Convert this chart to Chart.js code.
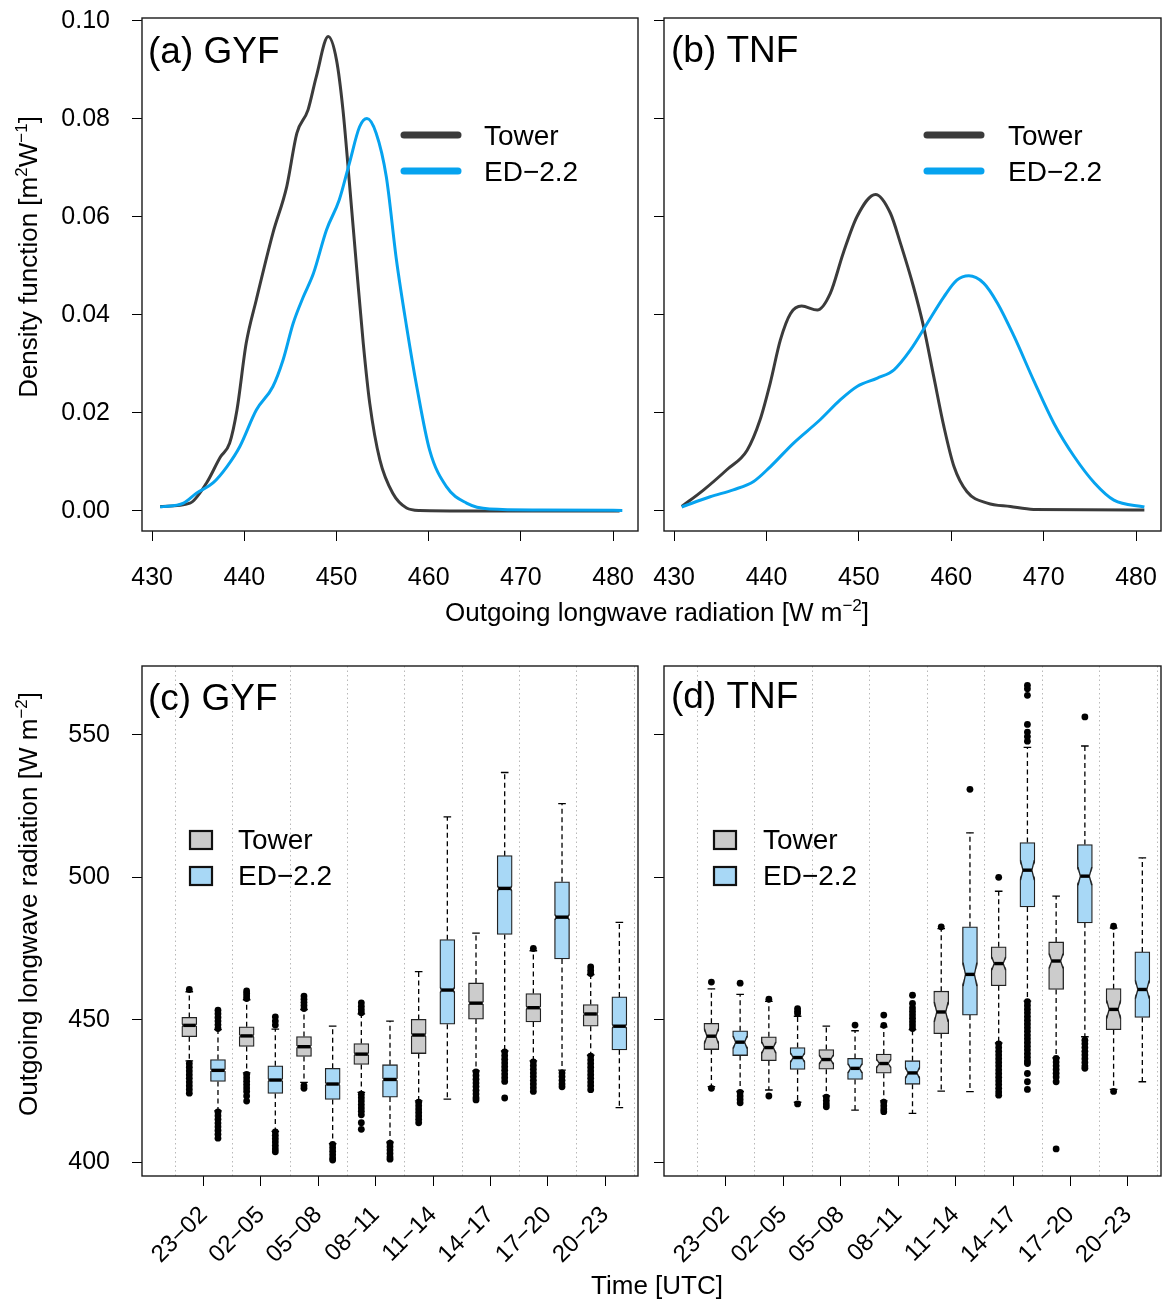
<!DOCTYPE html>
<html>
<head>
<meta charset="utf-8">
<title>Outgoing longwave radiation, GYF and TNF</title>
<script src="https://cdn.jsdelivr.net/npm/chart.js@4.4.1/dist/chart.umd.min.js"></script>
<style>
  html, body { margin: 0; padding: 0; background: #fff; overflow: hidden; }
  #fig { position: relative; width: 1164px; height: 1300px; font-family: "Liberation Sans", Arial, sans-serif; color: #000; }
  .pane { position: absolute; }
  .pane canvas { display: block; }
  .ttl { position: absolute; font-size: 26px; line-height: 26px; white-space: nowrap; }
  .ttl sup { font-size: 17px; line-height: 0; vertical-align: 10px; }
  .h { transform: translateX(-50%); }
  .v { transform: translate(-50%, -50%) rotate(-90deg); }
</style>
</head>
<body>
<div id="fig">
  <div class="pane" style="left:0;top:0;width:650px;height:600px"><canvas id="panelA"></canvas></div>
  <div class="pane" style="left:650px;top:0;width:514px;height:600px"><canvas id="panelB"></canvas></div>
  <div class="pane" style="left:0;top:640px;width:650px;height:660px"><canvas id="panelC"></canvas></div>
  <div class="pane" style="left:650px;top:640px;width:514px;height:660px"><canvas id="panelD"></canvas></div>

  <div class="ttl v" style="left:28px;top:257px">Density function [m<sup>2</sup>W<sup>−1</sup>]</div>
  <div class="ttl h" style="left:657px;top:599px">Outgoing longwave radiation [W m<sup>−2</sup>]</div>
  <div class="ttl v" style="left:28px;top:904px">Outgoing longwave radiation [W m<sup>−2</sup>]</div>
  <div class="ttl h" style="left:657px;top:1272px">Time [UTC]</div>
</div>

<script>
// ---------- data: density curves (top row) ----------
const olrTicks = [430, 440, 450, 460, 470, 480];
const densTicks = [0, 0.02, 0.04, 0.06, 0.08, 0.10];
const seriesNames = ['Tower', 'ED−2.2'];

const gyfTowerX = [430.87, 434.1, 435.9, 437.4, 438.4, 439.2, 440.2, 441.3, 443.1, 444.6, 445.7, 446.9, 447.8, 449.1, 450.0, 450.7, 451.4, 452.2, 452.9, 453.6, 454.7, 456.1, 457.6, 459.0, 465, 470, 475, 480.7];
const gyfTowerY = [0.0009, 0.0016, 0.0057, 0.011, 0.0138, 0.0206, 0.0342, 0.0431, 0.0567, 0.0662, 0.0771, 0.0818, 0.0886, 0.0968, 0.092, 0.0818, 0.0669, 0.0492, 0.0342, 0.022, 0.0104, 0.0036, 0.0006, 0.0001, 0, 0, 0, 0];
const gyfEdX = [430.87, 433.4, 434.8, 436.6, 438.1, 439.5, 441.3, 443.1, 444.2, 445.3, 446.4, 447.5, 448.9, 450.3, 451.4, 452.5, 453.3, 454.3, 455.4, 456.5, 457.6, 458.7, 460.1, 461.9, 464.1, 466.6, 472, 481.0];
const gyfEdY = [0.0008, 0.0016, 0.0036, 0.0057, 0.009, 0.0131, 0.0206, 0.0254, 0.0308, 0.0383, 0.0437, 0.0485, 0.0573, 0.0635, 0.071, 0.0784, 0.0801, 0.0771, 0.0682, 0.0512, 0.0376, 0.0254, 0.0124, 0.005, 0.0016, 0.0004, 0.0002, 0.0001];

const tnfTowerX = [430.82, 433.2, 435.7, 437.9, 439.3, 440.4, 441.5, 442.6, 443.8, 445.5, 446.9, 448.3, 449.8, 451.8, 453.4, 454.5, 455.9, 457.0, 458.1, 459.2, 460.3, 461.7, 463.9, 466.4, 468.9, 480.9];
const tnfTowerY = [0.0009, 0.0043, 0.0084, 0.0124, 0.0186, 0.0261, 0.0349, 0.0403, 0.0418, 0.041, 0.0444, 0.0526, 0.0601, 0.0646, 0.0608, 0.0546, 0.0458, 0.0376, 0.0274, 0.0172, 0.009, 0.0039, 0.0016, 0.0009, 0.0003, 0.0002];
const tnfEdX = [430.82, 433.9, 436.4, 438.6, 440.4, 442.9, 445.8, 448.0, 449.8, 452.0, 453.8, 455.6, 457.4, 459.2, 460.6, 461.9, 463.5, 465.0, 466.8, 468.9, 471.1, 473.3, 475.5, 477.6, 480.9];
const tnfEdY = [0.0008, 0.0029, 0.0043, 0.006, 0.009, 0.0138, 0.0186, 0.0227, 0.0254, 0.0271, 0.0288, 0.0329, 0.0383, 0.0437, 0.0471, 0.048, 0.0465, 0.0424, 0.0356, 0.0267, 0.0179, 0.0111, 0.0057, 0.0022, 0.0008];

// ---------- data: boxplots (bottom row) ----------
const timeLabels = ['23−02', '02−05', '05−08', '08−11', '11−14', '14−17', '17−20', '20−23'];
const timeTicks = [1.5, 3.5, 5.5, 7.5, 9.5, 11.5, 13.5, 15.5];
const groupEdges = [0.5, 2.5, 4.5, 6.5, 8.5, 10.5, 12.5, 14.5, 16.5];
const towerPos = [1, 3, 5, 7, 9, 11, 13, 15];
const edPos = [2, 4, 6, 8, 10, 12, 14, 16];
const olrBoxTicks = [400, 450, 500, 550];

// GYF tower
const gyfTowerLo  = [435.5, 431.3, 428.0, 424.5, 421.5, 432.0, 435.5, 437.5];
const gyfTowerQ1  = [444.0, 440.6, 437.1, 434.3, 438.1, 450.2, 449.2, 447.7];
const gyfTowerMed = [448.0, 444.3, 440.5, 437.9, 444.6, 455.8, 454.2, 452.0];
const gyfTowerQ3  = [450.8, 447.5, 444.1, 441.6, 450.1, 462.9, 459.2, 455.3];
const gyfTowerHi  = [459.8, 457.0, 453.5, 452.0, 466.9, 480.4, 474.2, 465.8];
const gyfTowerNotch = [0.5, 0.5, 0.5, 0.5, 0.6, 0.6, 0.6, 0.5];
const gyfTowerOut = [
  [460.6, 434.6, 433.3, 432, 430.7, 429.4, 428.1, 426.8, 425.5, 424.2],
  [457.4, 458.3, 459.2, 460.1, 430.8, 429.6, 428.4, 427.2, 426, 424.8, 423.2, 421.4],
  [453.9, 455, 456.1, 457.2, 458.3, 426.8, 425.9],
  [452.4, 453.5, 454.7, 455.9, 423.8, 422.6, 421.4, 420.2, 419, 417.8, 416.6, 413.8, 411.5],
  [421, 419.8, 418.6, 417.4, 416.2, 415, 413.8],
  [431.7, 430.4, 429.1, 427.8, 426.5, 425.2, 423.9, 422.6, 421.8],
  [475, 435.2, 433.9, 432.6, 431.3, 430, 428.7, 427.4, 426.1, 424.8],
  [466.2, 467.3, 468.5, 437.2, 435.9, 434.6, 433.3, 432, 430.7, 429.4, 428.1, 426.8, 425.4]
];
// GYF ED-2.2
const gyfEdLo  = [418.0, 410.8, 406.5, 407.0, 422.1, 439.0, 432.3, 419.1];
const gyfEdQ1  = [428.3, 424.1, 422.0, 422.8, 448.4, 479.9, 471.3, 439.4];
const gyfEdMed = [432.2, 428.8, 427.4, 429.0, 460.4, 496.1, 486.0, 447.7];
const gyfEdQ3  = [436.0, 433.8, 432.9, 434.2, 478.1, 507.6, 498.4, 458.0];
const gyfEdHi  = [446.5, 446.7, 447.7, 449.5, 521.2, 536.8, 525.9, 484.2];
const gyfEdNotch = [0.5, 0.5, 0.5, 0.5, 0.9, 0.9, 0.9, 0.7];
const gyfEdOut = [
  [446.9, 448.2, 449.5, 450.8, 452.1, 453.3, 417.6, 416.3, 415, 413.7, 412.4, 411.1, 409.8, 408.4],
  [448.1, 449.5, 451, 410.6, 409.4, 408.2, 407, 405.8, 404.6, 403.6],
  [406.2, 405, 403.8, 402.6, 401.4, 400.7],
  [406.6, 405.4, 404.2, 403, 401.8, 401],
  [],
  [438.7, 437.4, 436.1, 434.8, 433.5, 432.2, 430.9, 429.6, 428.3, 422.5],
  [431.3, 430, 428.7, 427.4, 426.4],
  []
];
// TNF tower
const tnfTowerLo  = [426.5, 425.3, 423.2, 421.5, 424.9, 441.8, 436.6, 425.5];
const tnfTowerQ1  = [439.5, 435.6, 432.6, 431.2, 445.1, 461.9, 460.6, 446.5];
const tnfTowerMed = [444.2, 440.2, 436.0, 434.6, 452.7, 469.7, 470.6, 453.6];
const tnfTowerQ3  = [448.7, 444.0, 439.5, 437.9, 460.0, 475.6, 477.3, 460.9];
const tnfTowerHi  = [460.8, 456.4, 447.7, 447.5, 482.0, 495.1, 493.4, 482.2];
const tnfTowerNotch = [2.6, 2.0, 1.6, 1.4, 3.5, 2.3, 2.6, 3.2];
const tnfTowerOut = [
  [463.2, 425.9],
  [457.2, 423.2],
  [422.8, 421.6, 420.4, 419.4],
  [448.0, 451.6, 421, 419.8, 418.6, 417.7],
  [482.6],
  [500, 441.5, 440.2, 438.9, 437.6, 436.3, 435, 433.7, 432.4, 431.1, 429.8, 428.5, 427.2, 425.9, 424.6, 423.5],
  [436.4, 435.1, 433.8, 432.5, 431.2, 429.9, 428.2, 404.6],
  [482.8, 424.8]
];
// TNF ED-2.2
const tnfEdLo  = [424.8, 421.0, 418.2, 417.1, 424.7, 456.5, 444.0, 428.2];
const tnfEdQ1  = [437.4, 432.5, 429.0, 427.3, 451.6, 489.6, 484.0, 450.8];
const tnfEdMed = [442.1, 436.7, 432.9, 431.3, 465.9, 502.5, 500.4, 460.6];
const tnfEdQ3  = [446.1, 440.2, 436.4, 435.6, 482.6, 512.2, 511.5, 473.8];
const tnfEdHi  = [458.9, 451.2, 446.1, 446.5, 515.6, 545.6, 546.1, 506.8];
const tnfEdNotch = [2.2, 1.6, 1.6, 1.9, 4.1, 3.5, 3.2, 3.2];
const tnfEdOut = [
  [462.8, 424.5, 423.2, 422, 420.8],
  [452.2, 453, 453.9, 420.4],
  [448.1],
  [446.9, 448.1, 449.3, 450.5, 451.7, 452.9, 454.1, 455.7, 458.6],
  [530.9],
  [547.8, 549.4, 551, 553.7, 563.9, 566.2, 567.4, 456.3, 455, 453.7, 452.4, 451.1, 449.8, 448.5, 447.2, 445.9, 444.6, 443.3, 442, 440.7, 439.4, 438.1, 436.8, 435.5, 434.6, 431.1, 428.2, 425.5],
  [556.3, 442.8, 441.5, 440.2, 438.9, 437.6, 436.3, 435, 433.7, 432.9],
  []
];

// ---------- styling ----------
const FONT = '"Liberation Sans", Arial, sans-serif';
Chart.defaults.font.family = FONT;
Chart.defaults.color = '#000';

const towerLine = '#3b3b3b', edLine = '#06a3ef';
const towerFill = '#cccccc', edFill = '#a8d8f6';
const BOX_W = 15;

const xy = (xs, ys) => xs.map((v, i) => ({ x: v, y: ys[i] }));
const boxes = (pos, q1, q3) => pos.map((p, i) => ({ x: p, y: [q1[i], q3[i]] }));
const outliers = (pos, out) => pos.flatMap((p, i) => out[i].map(v => ({ x: p, y: v })));

function fixSize(size, horizontal) {
  return s => {
    if (horizontal) s.height = size; else s.width = size;
    s.paddingLeft = s.paddingRight = s.paddingTop = s.paddingBottom = 0;
  };
}
const setTicks = values => s => { s.ticks = values.map(v => ({ value: v })); };

// frame, panel label and legend
function decor(cfg) {
  return {
    id: 'decor',
    afterDraw(chart) {
      const { ctx, chartArea: a } = chart;
      ctx.save();
      ctx.strokeStyle = '#1a1a1a';
      ctx.lineWidth = 1.4;
      ctx.strokeRect(a.left, a.top, a.right - a.left, a.bottom - a.top);

      ctx.fillStyle = '#000';
      ctx.textAlign = 'left';
      ctx.textBaseline = 'alphabetic';
      ctx.font = '37px ' + FONT;
      ctx.fillText(cfg.label, cfg.lx, cfg.ly);

      ctx.font = '28px ' + FONT;
      const colors = cfg.kind === 'line' ? [towerLine, edLine] : [towerFill, edFill];
      seriesNames.forEach((name, i) => {
        const by = cfg.ky[i];
        if (cfg.kind === 'line') {
          ctx.strokeStyle = colors[i];
          ctx.lineWidth = 7;
          ctx.lineCap = 'round';
          ctx.beginPath();
          ctx.moveTo(cfg.kx, by - 10);
          ctx.lineTo(cfg.kx + 54, by - 10);
          ctx.stroke();
        } else {
          ctx.fillStyle = colors[i];
          ctx.fillRect(cfg.kx, by - 18, 22, 18);
          ctx.strokeStyle = '#111';
          ctx.lineWidth = 2.2;
          ctx.strokeRect(cfg.kx, by - 18, 22, 18);
        }
        ctx.fillStyle = '#000';
        ctx.fillText(name, cfg.tx, by);
      });
      ctx.restore();
    }
  };
}

// whiskers, separators, notches and medians for the boxplots
function boxExtras(groups, indent) {
  return {
    id: 'boxExtras',
    beforeDatasetsDraw(chart) {
      const { ctx, chartArea: a, scales: { x, y } } = chart;
      ctx.save();
      ctx.strokeStyle = '#b8b8b8';
      ctx.lineWidth = 1;
      ctx.setLineDash([1.5, 3]);
      groupEdges.forEach(p => {
        const px = Math.round(x.getPixelForValue(p)) + 0.5;
        ctx.beginPath(); ctx.moveTo(px, a.top); ctx.lineTo(px, a.bottom); ctx.stroke();
      });
      ctx.strokeStyle = '#000';
      ctx.lineWidth = 1.3;
      groups.forEach(g => g.pos.forEach((p, i) => {
        const cx = x.getPixelForValue(p);
        const yHi = y.getPixelForValue(g.hi[i]), yLo = y.getPixelForValue(g.lo[i]);
        ctx.setLineDash([5, 3.5]);
        ctx.beginPath();
        ctx.moveTo(cx, y.getPixelForValue(g.q3[i])); ctx.lineTo(cx, yHi);
        ctx.moveTo(cx, y.getPixelForValue(g.q1[i])); ctx.lineTo(cx, yLo);
        ctx.stroke();
        ctx.setLineDash([]);
        ctx.beginPath();
        ctx.moveTo(cx - 3.8, yHi); ctx.lineTo(cx + 3.8, yHi);
        ctx.moveTo(cx - 3.8, yLo); ctx.lineTo(cx + 3.8, yLo);
        ctx.stroke();
      }));
      ctx.restore();
    },
    afterDatasetsDraw(chart) {
      const { ctx, scales: { x, y } } = chart;
      ctx.save();
      groups.forEach(g => g.pos.forEach((p, i) => {
        const cx = x.getPixelForValue(p), hw = BOX_W / 2;
        const ym = y.getPixelForValue(g.med[i]);
        const yt = y.getPixelForValue(g.med[i] + g.notch[i]);
        const yb = y.getPixelForValue(g.med[i] - g.notch[i]);
        [[cx - hw, 1], [cx + hw, -1]].forEach(([ex, dir]) => {
          ctx.fillStyle = '#fff';
          ctx.beginPath();
          ctx.moveTo(ex - dir, yt); ctx.lineTo(ex + dir * indent, ym); ctx.lineTo(ex - dir, yb);
          ctx.closePath(); ctx.fill();
          ctx.strokeStyle = '#222';
          ctx.lineWidth = 1.3;
          ctx.beginPath();
          ctx.moveTo(ex + dir * 0.65, yt); ctx.lineTo(ex + dir * indent, ym); ctx.lineTo(ex + dir * 0.65, yb);
          ctx.stroke();
        });
        ctx.strokeStyle = '#000';
        ctx.lineWidth = 3.4;
        ctx.beginPath();
        ctx.moveTo(cx - hw + indent, ym); ctx.lineTo(cx + hw - indent, ym);
        ctx.stroke();
      }));
      ctx.restore();
    }
  };
}

const tickGrid = { drawOnChartArea: false, drawTicks: true, tickLength: 10, color: '#000', lineWidth: 1 };
const baseOptions = {
  responsive: true, maintainAspectRatio: false, animation: false, events: [],
  plugins: { legend: { display: false }, tooltip: { enabled: false } }
};

function densityChart(id, towerPts, edPts, showY, yWidth, padRight, cfg) {
  return new Chart(document.getElementById(id), {
    type: 'line',
    data: {
      datasets: [
        { label: seriesNames[0], data: towerPts, borderColor: towerLine, borderWidth: 3, pointRadius: 0, cubicInterpolationMode: 'monotone', order: 1 },
        { label: seriesNames[1], data: edPts, borderColor: edLine, borderWidth: 3, pointRadius: 0, cubicInterpolationMode: 'monotone', order: 0 }
      ]
    },
    options: {
      ...baseOptions,
      layout: { padding: { left: 0, right: padRight, top: 18, bottom: 0 }, autoPadding: false },
      scales: {
        x: {
          type: 'linear', min: 428.9, max: 482.7, offset: false,
          afterBuildTicks: setTicks(olrTicks), afterFit: fixSize(69, true),
          grid: tickGrid, border: { display: false },
          ticks: { font: { size: 25 }, padding: 22, maxRotation: 0, autoSkip: false, callback: v => String(v) }
        },
        y: {
          type: 'linear', min: -0.0041, max: 0.1006,
          afterBuildTicks: setTicks(densTicks), afterFit: fixSize(yWidth, false),
          grid: tickGrid, border: { display: false },
          ticks: { font: { size: 25 }, padding: 22, callback: v => showY ? v.toFixed(2) : '' }
        }
      }
    },
    plugins: [decor(cfg)]
  });
}

function boxChart(id, tw, ed, showY, yWidth, padRight, indent, cfg) {
  return new Chart(document.getElementById(id), {
    type: 'bar',
    data: {
      datasets: [
        { type: 'bar', label: seriesNames[0], data: boxes(towerPos, tw.q1, tw.q3), backgroundColor: towerFill, borderColor: '#222', borderWidth: 1.3, borderSkipped: false, barThickness: BOX_W, grouped: false, order: 2 },
        { type: 'bar', label: seriesNames[1], data: boxes(edPos, ed.q1, ed.q3), backgroundColor: edFill, borderColor: '#222', borderWidth: 1.3, borderSkipped: false, barThickness: BOX_W, grouped: false, order: 2 },
        { type: 'scatter', data: outliers(towerPos, tw.out), pointRadius: 3.4, pointBackgroundColor: '#000', pointBorderWidth: 0, order: 0 },
        { type: 'scatter', data: outliers(edPos, ed.out), pointRadius: 3.4, pointBackgroundColor: '#000', pointBorderWidth: 0, order: 0 }
      ]
    },
    options: {
      ...baseOptions,
      layout: { padding: { left: 0, right: padRight, top: 26, bottom: 0 }, autoPadding: false },
      scales: {
        x: {
          type: 'linear', min: -0.65, max: 16.65, offset: false,
          afterBuildTicks: setTicks(timeTicks), afterFit: fixSize(124, true),
          grid: { ...tickGrid, offset: false }, border: { display: false },
          ticks: { font: { size: 24 }, padding: 15, minRotation: 45, maxRotation: 45, autoSkip: false, callback: (v, i) => timeLabels[i] }
        },
        y: {
          type: 'linear', min: 395.1, max: 574.2,
          afterBuildTicks: setTicks(olrBoxTicks), afterFit: fixSize(yWidth, false),
          grid: tickGrid, border: { display: false },
          ticks: { font: { size: 25 }, padding: 22, callback: v => showY ? String(v) : '' }
        }
      }
    },
    plugins: [boxExtras([{ pos: towerPos, ...tw }, { pos: edPos, ...ed }], indent), decor(cfg)]
  });
}

densityChart('panelA', xy(gyfTowerX, gyfTowerY), xy(gyfEdX, gyfEdY), true, 142, 12,
  { label: '(a) GYF', lx: 148, ly: 63, kind: 'line', kx: 404, ky: [145, 181], tx: 484 });
densityChart('panelB', xy(tnfTowerX, tnfTowerY), xy(tnfEdX, tnfEdY), false, 14, 3,
  { label: '(b) TNF', lx: 21, ly: 62, kind: 'line', kx: 277, ky: [145, 181], tx: 358 });

boxChart('panelC',
  { lo: gyfTowerLo, q1: gyfTowerQ1, med: gyfTowerMed, q3: gyfTowerQ3, hi: gyfTowerHi, notch: gyfTowerNotch, out: gyfTowerOut },
  { lo: gyfEdLo, q1: gyfEdQ1, med: gyfEdMed, q3: gyfEdQ3, hi: gyfEdHi, notch: gyfEdNotch, out: gyfEdOut },
  true, 142, 12, 1.5,
  { label: '(c) GYF', lx: 148, ly: 70, kind: 'box', kx: 190, ky: [209, 245], tx: 238 });
boxChart('panelD',
  { lo: tnfTowerLo, q1: tnfTowerQ1, med: tnfTowerMed, q3: tnfTowerQ3, hi: tnfTowerHi, notch: tnfTowerNotch, out: tnfTowerOut },
  { lo: tnfEdLo, q1: tnfEdQ1, med: tnfEdMed, q3: tnfEdQ3, hi: tnfEdHi, notch: tnfEdNotch, out: tnfEdOut },
  false, 14, 3, 3,
  { label: '(d) TNF', lx: 21, ly: 68, kind: 'box', kx: 64, ky: [209, 245], tx: 113 });
</script>
</body>
</html>
